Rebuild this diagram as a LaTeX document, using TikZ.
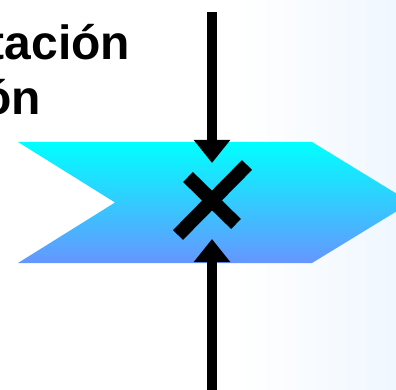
\documentclass[tikz,border=0pt]{standalone}
\usepackage{fontspec}
\setmainfont{Liberation Sans}
\usepackage{tikz}
\usetikzlibrary{arrows.meta}
\definecolor{chevtop}{RGB}{0,255,255}
\definecolor{chevbot}{RGB}{102,150,255}
\definecolor{paleblue}{RGB}{240,247,255}
\tikzset{
  flujo/.style={line width=10pt,-{Triangle[width=35pt,length=23pt]}},
  aspa/.style={line width=14pt,line cap=butt},
  titulo/.style={inner sep=0pt,anchor=base east,font=\bfseries\fontsize{48}{56}\selectfont}
}
\begin{document}
\begin{tikzpicture}[x=1pt,y=-1pt]
			\useasboundingbox (0,0) rectangle (396,390);
			\clip (0,0) rectangle (396,390);
			\fill [left color=white,right color=paleblue] (235,0) rectangle (396,390);
			% cheurón
			\shade [top color=chevtop,bottom color=chevbot] (18,142)-- (312,142)-- (411,202.5)-- (312,263)-- (18,263)-- (115,202.5)-- cycle;
			\node [titulo] (t1) at (130.5,60) {tación};
			\node [titulo] (t2) at (41.5,115) {ón};
			\coordinate (arriba) at (212,12);
			\coordinate (tope) at (212,163);
			\coordinate (abajo) at (212,390);
			\coordinate (base) at (212,239);
			\draw [flujo] (arriba)-- (tope);
			\draw [flujo] (abajo)-- (base);
			% aspa
			\draw [aspa] (188,177)-- (236,224);
			\draw [aspa] (178,235)-- (247,165);
		\end{tikzpicture}
\end{document}
